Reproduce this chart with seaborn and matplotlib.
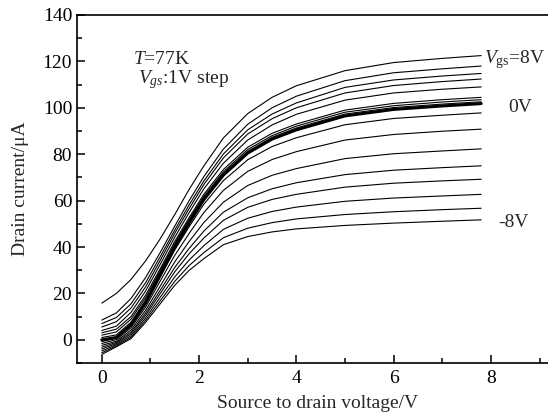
import numpy as np
import pandas as pd
import seaborn as sns
import matplotlib
matplotlib.use("Agg")
import matplotlib.pyplot as plt
from matplotlib.ticker import MultipleLocator

# ------------------------------
# Data (drain current in uA)
# ------------------------------
vds = [0, 0.3, 0.6, 0.9, 1.2, 1.5, 1.8, 2.1, 2.5, 3.0, 3.5, 4.0, 5.0, 6.0, 7.0, 7.8]

id_p8 = [15.8, 20, 26, 34, 43.5, 54, 65, 75, 87, 97.5, 104.5, 109.5, 116, 119.5, 121.3, 122.5]
id_p7 = [8.5, 11.6, 17.8, 26.8, 37.6, 49, 60.1, 70.4, 82.2, 92.9, 100, 105, 111.7, 115.1, 116.8, 118]
id_p6 = [7.0, 9.6, 15.5, 24.6, 35.8, 47.3, 58.3, 68.5, 80.1, 90.5, 97.3, 102.1, 108.8, 112, 113.7, 114.8]
id_p5 = [5.5, 7.8, 13.7, 22.8, 34.2, 45.9, 56.7, 67, 78.4, 88.7, 95.3, 100, 106.4, 109.6, 111.3, 112.4]
id_p4 = [4.0, 5.9, 11.8, 21, 32.5, 44.2, 55, 65.1, 76.1, 86.1, 92.6, 97.2, 103.3, 106.4, 108, 109]
id_p3 = [3.0, 4.6, 10, 19.2, 30.6, 42.4, 52.8, 62.8, 73.4, 83, 89, 93, 99, 101.9, 103.5, 104.5]
id_p2 = [2.0, 3.4, 8.9, 18.1, 29.7, 41.5, 52, 61.9, 72.4, 82, 88, 92.1, 98.1, 100.9, 102.5, 103.5]
id_p1 = [1.0, 2.1, 7.6, 17, 28.8, 40.7, 51.2, 61.2, 71.7, 81.2, 87.3, 91.3, 97.3, 100.1, 101.6, 102.6]
id_0 = [0, 1, 6.5, 16, 28, 40, 50.5, 60.5, 71, 80.5, 86.5, 90.5, 96.5, 99.3, 100.8, 101.8]
id_m1 = [-0.8, 0.7, 6.0, 15.3, 27, 38.7, 48.9, 58.5, 68.6, 77.6, 83.3, 87.1, 92.7, 95.4, 96.8, 97.8]
id_m2 = [-1.6, 0.1, 5.2, 14.1, 25.3, 36.4, 46, 54.9, 64.4, 72.6, 77.7, 81.1, 86.1, 88.5, 89.9, 90.8]
id_m3 = [-2.4, -0.6, 4.2, 12.7, 23.1, 33.6, 42.5, 50.6, 59.3, 66.5, 70.9, 73.8, 78.1, 80.2, 81.4, 82.3]
id_m4 = [-3.2, -1.1, 3.3, 11.5, 21.3, 31.2, 39.5, 46.9, 55, 61.2, 65.1, 67.7, 71.2, 73.1, 74.2, 75.0]
id_m5 = [-4.0, -1.6, 2.6, 10.5, 19.9, 29.3, 37.2, 43.9, 51.5, 57.1, 60.5, 62.7, 65.8, 67.5, 68.5, 69.2]
id_m6 = [-4.8, -2.1, 1.8, 9.4, 18.3, 27.1, 34.5, 40.6, 47.6, 52.4, 55.3, 57.2, 59.7, 61.1, 62.0, 62.7]
id_m7 = [-5.6, -2.6, 1.1, 8.4, 16.8, 25.2, 32.1, 37.6, 44, 48.1, 50.5, 52.1, 54, 55.2, 56.1, 56.7]
id_m8 = [-6.3, -3, 0.5, 7.5, 15.5, 23.5, 30, 35, 41, 44.5, 46.5, 47.8, 49.3, 50.3, 51.1, 51.7]

vgs = [8, 7, 6, 5, 4, 3, 2, 1, 0, -1, -2, -3, -4, -5, -6, -7, -8]
curves = [id_p8, id_p7, id_p6, id_p5, id_p4, id_p3, id_p2, id_p1, id_0,
          id_m1, id_m2, id_m3, id_m4, id_m5, id_m6, id_m7, id_m8]

rows = []
for g, c in zip(vgs, curves):
    for v, i in zip(vds, c):
        rows.append({"Vgs": g, "Vds": v, "Id": i})
df = pd.DataFrame(rows)

# ------------------------------
# Style
# ------------------------------
sns.set_style("ticks")
plt.rcParams["font.family"] = ["Liberation Serif", "DejaVu Serif"]
plt.rcParams["mathtext.fontset"] = "custom"
plt.rcParams["mathtext.rm"] = "Liberation Serif"
plt.rcParams["mathtext.it"] = "Liberation Serif:italic"

fig = plt.figure(figsize=(5.48, 4.19), dpi=100)
ax = fig.add_axes([77 / 548, 56 / 419, 482 / 548, 348 / 419])

for g in vgs:
    sub = df[df["Vgs"] == g]
    sns.lineplot(data=sub, x="Vds", y="Id", ax=ax, color="black",
                 lw=2.2 if g == 0 else 0.8, estimator=None, legend=False)

ax.set_xlim(-0.51, 9.4)
ax.set_ylim(-10, 140)
ax.xaxis.set_major_locator(MultipleLocator(2))
ax.xaxis.set_minor_locator(MultipleLocator(1))
ax.yaxis.set_major_locator(MultipleLocator(20))
ax.yaxis.set_minor_locator(MultipleLocator(10))
ax.tick_params(which="both", direction="in", width=1.1, labelsize=14, colors="black")
ax.tick_params(which="major", length=6)
ax.tick_params(which="minor", length=3.5)
ax.tick_params(axis="x", pad=5)
for s in ax.spines.values():
    s.set_linewidth(1.2)
    s.set_color("black")

ax.set_xlabel("Source to drain voltage/V", fontsize=14, labelpad=6)
ax.set_ylabel("Drain current/\u03bcA", fontsize=14, labelpad=10)

ax.text(0.64, 118.8, r"$\it{T}$=77K", fontsize=14, va="baseline")
ax.text(0.75, 110.7, r"$\it{V_{gs}}$:1V step", fontsize=14, va="baseline")
ax.text(7.85, 119.3, r"$V_{\rm gs}$=8V", fontsize=14, va="baseline")
ax.text(8.36, 98.2, "0V", fontsize=14, va="baseline")
ax.text(8.15, 48.7, "-8V", fontsize=14, va="baseline")

fig.savefig("out.png", dpi=100)
